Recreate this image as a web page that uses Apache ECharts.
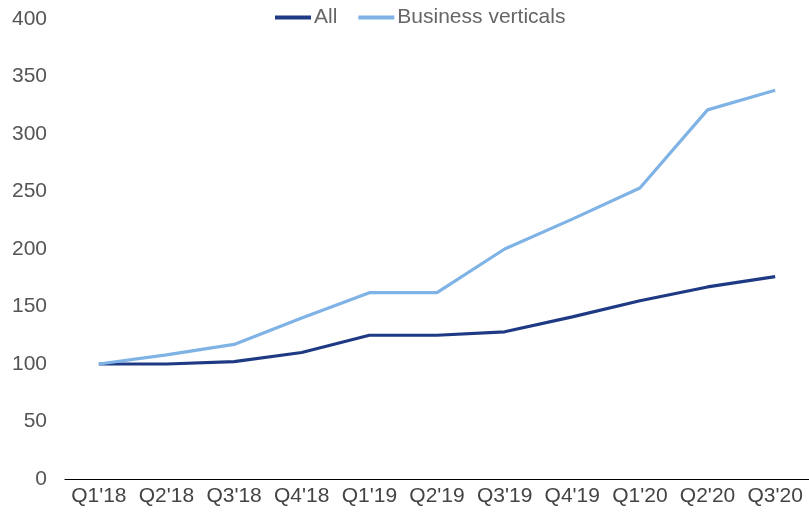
<!DOCTYPE html>
<html>
<head>
<meta charset="utf-8">
<script src="https://cdn.jsdelivr.net/npm/echarts@6/dist/echarts.min.js"></script>
<style>html,body{margin:0;padding:0;background:#fff}#c{width:809px;height:516px}</style>
</head>
<body>
<div id="c"></div>
<script>
var categories = ["Q1'18","Q2'18","Q3'18","Q4'18","Q1'19","Q2'19","Q3'19","Q4'19","Q1'20","Q2'20","Q3'20"];
var allValues = [100, 100, 102, 110, 125, 125, 128, 141, 155, 167, 176];
var businessValues = [100, 108, 117, 140, 162, 162, 200, 226, 253, 321, 338];
var yTicks = [0, 50, 100, 150, 200, 250, 300, 350, 400];

var chart = echarts.init(document.getElementById('c'), null, {renderer: 'canvas'});
chart.setOption({
  animation: false,
  backgroundColor: '#ffffff',
  textStyle: {fontFamily: 'Liberation Sans, Arial, sans-serif'},
  legend: {
    top: 2,
    left: 270,
    itemWidth: 36,
    itemHeight: 4,
    itemGap: 21,
    icon: 'rect',
    textStyle: {fontSize: 21, color: '#666666', padding: [0, 0, 0, -2]},
    data: ['All', 'Business verticals']
  },
  grid: {left: 65, top: 19, width: 745, height: 460, containLabel: false},
  xAxis: {
    type: 'category',
    data: categories,
    boundaryGap: true,
    axisLine: {lineStyle: {color: '#000000', width: 1.2}},
    axisTick: {show: false},
    axisLabel: {fontSize: 21, color: '#444444', margin: 7, interval: 0}
  },
  yAxis: {
    type: 'value',
    min: yTicks[0],
    max: yTicks[yTicks.length - 1],
    interval: 50,
    axisLine: {show: false},
    axisTick: {show: false},
    splitLine: {show: false},
    axisLabel: {fontSize: 21, color: '#555555', margin: 18}
  },
  series: [
    {
      name: 'All', type: 'line', data: allValues, symbol: 'none',
      lineStyle: {width: 3.2, color: '#1f3a84'}, itemStyle: {color: '#1f3a84'}
    },
    {
      name: 'Business verticals', type: 'line', data: businessValues, symbol: 'none',
      lineStyle: {width: 3.2, color: '#7fb3e6'}, itemStyle: {color: '#7fb3e6'}
    }
  ]
});
</script>
</body>
</html>
